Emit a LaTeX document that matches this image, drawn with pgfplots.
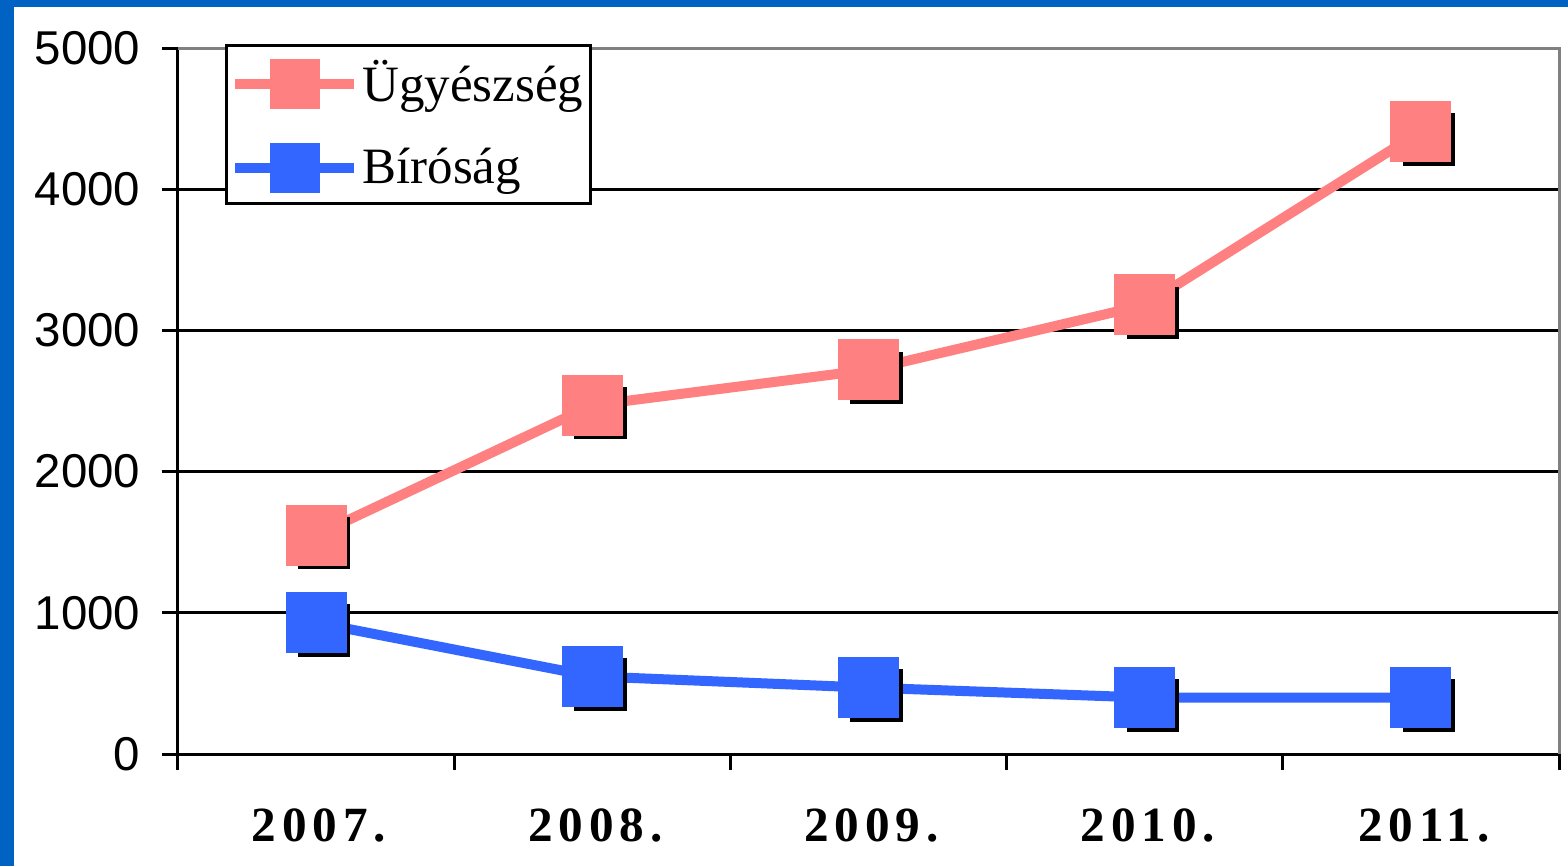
\documentclass[border=0pt]{standalone}
\usepackage{pgfplots}
\pgfplotsset{compat=1.18}
\usepackage{fontspec}
\setmainfont{Liberation Serif}
\newfontfamily\labsans{Liberation Sans}
\newfontfamily\labbold[LetterSpace=12]{Liberation Serif Bold}
\definecolor{bgblue}{HTML}{0062C2}
\definecolor{pinkc}{HTML}{FF8080}
\definecolor{bluec}{HTML}{3366FF}
\definecolor{framegray}{HTML}{808080}
\pgfplotstableread{
x ugy bir
0.5 1550 930
1.5 2470 550
2.5 2720 470
3.5 3180 400
4.5 4410 400
}\datatable
\begin{document}
\begin{tikzpicture}
\fill[bgblue] (0,0) rectangle (156.8mm,86.6mm);
\fill[white] (1.4mm,0) rectangle (156.8mm,85.9mm);
\useasboundingbox (0,0) rectangle (156.8mm,86.6mm);
\begin{axis}[
  at={(17.8mm,11.2mm)}, anchor=south west,
  scale only axis, width=138.1mm, height=70.6mm,
  xmin=0, xmax=5, ymin=0, ymax=5000,
  axis x line*=bottom, axis y line*=left,
  axis line style={black, line width=0.3mm, -},
  xtick={0.5,1.5,2.5,3.5,4.5},
  xticklabels={2007.,2008.,2009.,2010.,2011.},
  minor xtick={0,1,2,3,4,5},
  major x tick style={draw=none},
  minor x tick style={black, line width=0.3mm},
  minor tick length=1.6mm,
  ytick={0,1000,2000,3000,4000},
  extra y ticks={5000},
  extra y tick style={grid=none},
  major tick length=1.6mm,
  tick align=outside,
  y tick style={black, line width=0.3mm},
  ymajorgrids,
  grid style={black, line width=0.3mm},
  /pgf/number format/assume math mode=true,
  scaled y ticks=false,
  yticklabel={\pgfmathprintnumber[fixed,1000 sep={}]{\tick}},
  yticklabel style={font=\labsans\fontsize{13.5}{13.5}\selectfont, inner sep=0pt, xshift=-2.1mm},
  xticklabel style={font=\labbold\fontsize{14}{14}\selectfont, inner sep=0pt, yshift=-3.8mm, xshift=0.3mm},
  legend style={at={(axis description cs:0.034,1.006)}, anchor=north west,
    draw=black, line width=0.3mm, fill=white, inner xsep=0.4mm, inner ysep=1.2mm,
    font=\fontsize{14.5}{14.5}\selectfont, row sep=3.5mm,
    nodes={inner sep=0.3mm},
    legend cell align=left},
  legend image code/.code={
    \draw[#1, mark=none] (0mm,0mm) -- (11.9mm,0mm);
    \draw[#1, only marks, mark size=2mm] plot coordinates {(6mm,0mm)};
  },
  clip=false,
]
% shadows
\addplot[forget plot, only marks, mark=square*, mark size=2.55mm,
  mark options={fill=black, draw=none, xshift=0.8mm, yshift=-0.8mm}]
  table[x=x,y=ugy]{\datatable};
\addplot[forget plot, only marks, mark=square*, mark size=2.55mm,
  mark options={fill=black, draw=none, xshift=0.8mm, yshift=-0.8mm}]
  table[x=x,y=bir]{\datatable};
% series
\addplot[pinkc, line width=1mm, mark=square*, mark size=2.55mm,
  mark options={fill=pinkc, draw=none}]
  table[x=x,y=ugy]{\datatable};
\addlegendentry{Ügyészség}
\addplot[bluec, line width=1mm, mark=square*, mark size=2.55mm,
  mark options={fill=bluec, draw=none}]
  table[x=x,y=bir]{\datatable};
\addlegendentry{Bíróság}
\draw[framegray, line width=0.3mm] (rel axis cs:0,1) -- (rel axis cs:1,1) -- (rel axis cs:1,0);
\end{axis}
\end{tikzpicture}
\end{document}
